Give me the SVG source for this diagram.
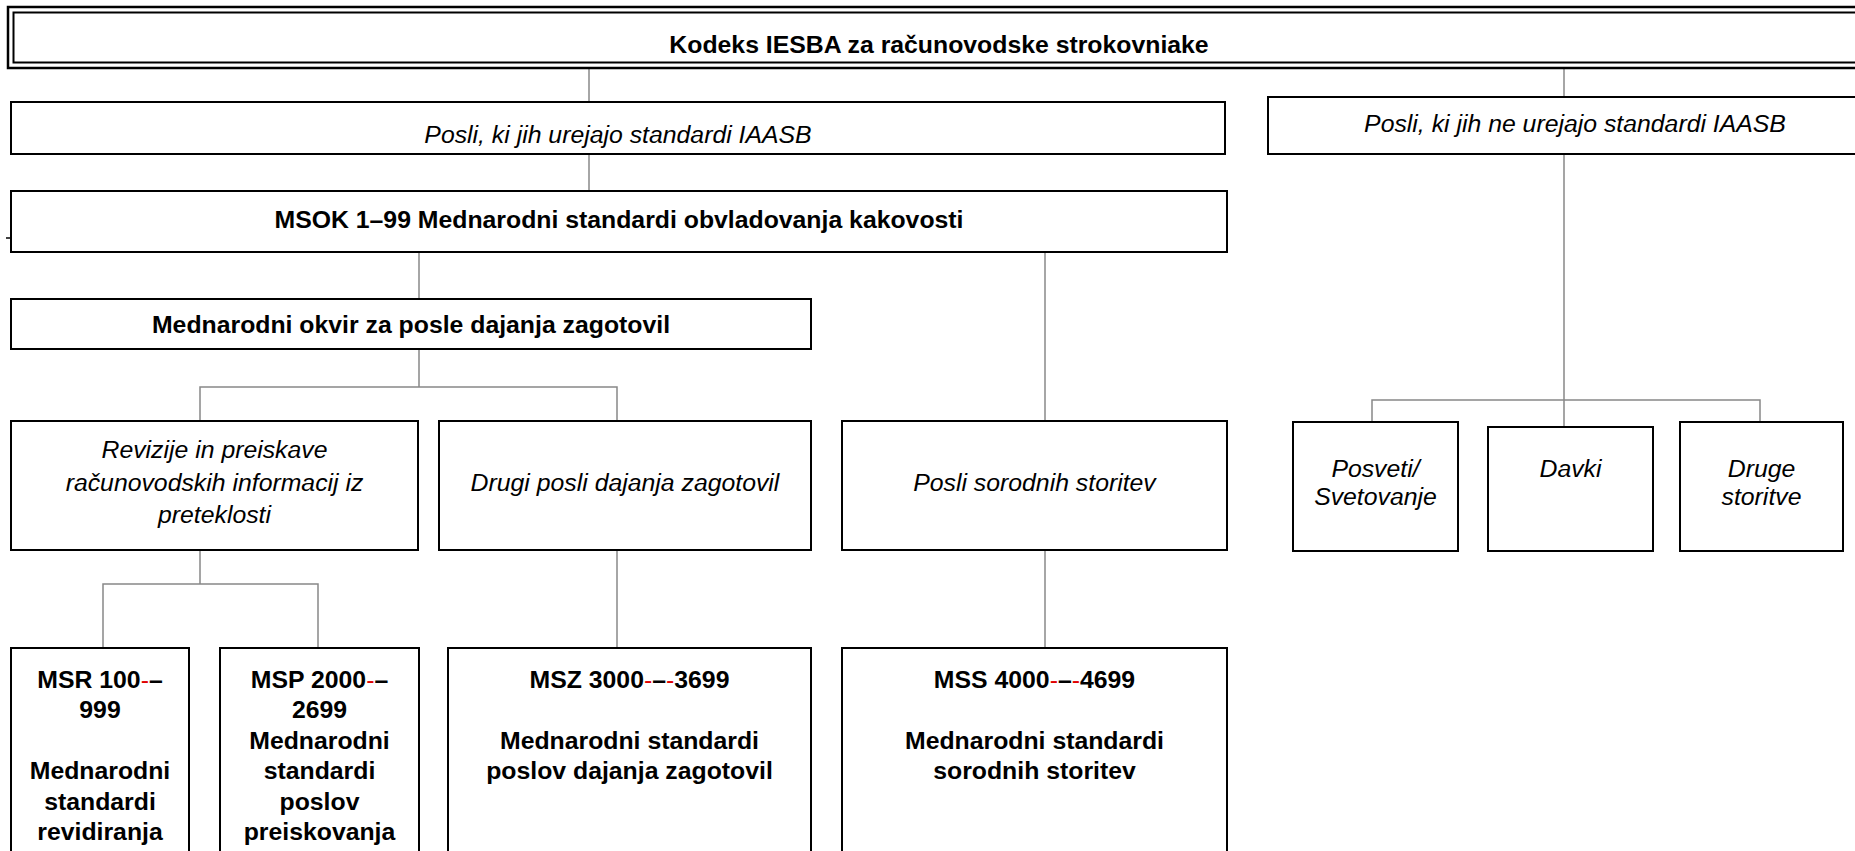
<svg xmlns="http://www.w3.org/2000/svg" width="1855" height="851" viewBox="0 0 1855 851">
<style>
.box{fill:#fff;stroke:#000;stroke-width:2}
.conn{fill:none;stroke:#888;stroke-width:1.5}
.t{font-family:"Liberation Sans",Arial,Helvetica,sans-serif;font-size:24.8px;text-anchor:middle;fill:#000}
.b{font-weight:bold}
.i{font-style:italic}
.red{fill:#e00000;font-weight:normal}
</style>
<rect width="1855" height="851" fill="#fff"/>
<g id="connectors">
<path class="conn" d="M589,68V102"/>
<path class="conn" d="M1564,68V97"/>
<path class="conn" d="M589,154V191"/>
<path class="conn" d="M419,252V299"/>
<path class="conn" d="M1045,252V421"/>
<path class="conn" d="M419,349V387M200,421V387H617V421"/>
<path class="conn" d="M1564,154V427M1372,422V400H1760V422"/>
<path class="conn" d="M200,550V584M103,648V584H318V648"/>
<path class="conn" d="M617,550V648"/>
<path class="conn" d="M1045,550V648"/>
</g>
<g id="kodeks">
<rect x="8" y="7" width="1875" height="61" fill="#fff" stroke="#000" stroke-width="2.5"/>
<rect x="13.5" y="12.5" width="1870" height="50" fill="none" stroke="#000" stroke-width="2"/>
<text class="t b" x="939" y="52.5">Kodeks IESBA za računovodske strokovniake</text>
</g>
<g id="posli-iaasb">
<rect class="box" x="11" y="102" width="1214" height="52"/>
<text class="t i" x="618" y="142.5">Posli, ki jih urejajo standardi IAASB</text>
</g>
<g id="posli-ne-iaasb">
<rect class="box" x="1268" y="97" width="620" height="57"/>
<text class="t i" x="1575" y="132">Posli, ki jih ne urejajo standardi IAASB</text>
</g>
<g id="msok">
<rect class="box" x="11" y="191" width="1216" height="61"/>
<path d="M6,238H11" stroke="#000" stroke-width="1.5"/>
<text class="t b" x="619" y="228">MSOK 1–99 Mednarodni standardi obvladovanja kakovosti</text>
</g>
<g id="okvir">
<rect class="box" x="11" y="299" width="800" height="50"/>
<text class="t b" x="411" y="333">Mednarodni okvir za posle dajanja zagotovil</text>
</g>
<g id="revizije">
<rect class="box" x="11" y="421" width="407" height="129"/>
<text class="t i" x="214.5" y="458">Revizije in preiskave</text>
<text class="t i" x="214.5" y="490.5">računovodskih informacij iz</text>
<text class="t i" x="214.5" y="523">preteklosti</text>
</g>
<g id="drugi">
<rect class="box" x="439" y="421" width="372" height="129"/>
<text class="t i" x="625" y="491">Drugi posli dajanja zagotovil</text>
</g>
<g id="sorodni">
<rect class="box" x="842" y="421" width="385" height="129"/>
<text class="t i" x="1034.5" y="491">Posli sorodnih storitev</text>
</g>
<g id="posveti">
<rect class="box" x="1293" y="422" width="165" height="129"/>
<text class="t i" x="1375.5" y="477">Posveti/</text>
<text class="t i" x="1375.5" y="505">Svetovanje</text>
</g>
<g id="davki">
<rect class="box" x="1488" y="427" width="165" height="124"/>
<text class="t i" x="1570.5" y="477">Davki</text>
</g>
<g id="druge">
<rect class="box" x="1680" y="422" width="163" height="129"/>
<text class="t i" x="1761.5" y="477">Druge</text>
<text class="t i" x="1761.5" y="505">storitve</text>
</g>
<g id="msr">
<rect class="box" x="11" y="648" width="178" height="230"/>
<text class="t b" x="100" y="687.5">MSR 100<tspan class="red">-</tspan>–</text>
<text class="t b" x="100" y="718">999</text>
<text class="t b" x="100" y="779">Mednarodni</text>
<text class="t b" x="100" y="809.5">standardi</text>
<text class="t b" x="100" y="840">revidiranja</text>
</g>
<g id="msp">
<rect class="box" x="220" y="648" width="199" height="230"/>
<text class="t b" x="319.5" y="687.5">MSP 2000<tspan class="red">-</tspan>–</text>
<text class="t b" x="319.5" y="718">2699</text>
<text class="t b" x="319.5" y="748.5">Mednarodni</text>
<text class="t b" x="319.5" y="779">standardi</text>
<text class="t b" x="319.5" y="809.5">poslov</text>
<text class="t b" x="319.5" y="840">preiskovanja</text>
</g>
<g id="msz">
<rect class="box" x="448" y="648" width="363" height="230"/>
<text class="t b" x="629.5" y="687.5">MSZ 3000<tspan class="red">-</tspan>–<tspan class="red">-</tspan>3699</text>
<text class="t b" x="629.5" y="748.5">Mednarodni standardi</text>
<text class="t b" x="629.5" y="779">poslov dajanja zagotovil</text>
</g>
<g id="mss">
<rect class="box" x="842" y="648" width="385" height="230"/>
<text class="t b" x="1034.5" y="687.5">MSS 4000<tspan class="red">-</tspan>–<tspan class="red">-</tspan>4699</text>
<text class="t b" x="1034.5" y="748.5">Mednarodni standardi</text>
<text class="t b" x="1034.5" y="779">sorodnih storitev</text>
</g>
</svg>
